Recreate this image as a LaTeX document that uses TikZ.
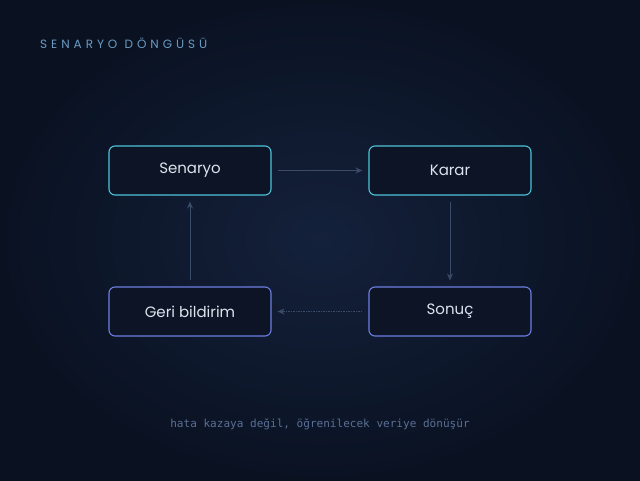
\documentclass[tikz,border=0pt]{standalone}
\usepackage{fontspec}
\setmainfont{Poppins}
\setmonofont{DejaVu Sans Mono}
\newfontfamily\titlefont[LetterSpace=33]{Poppins}
\usetikzlibrary{arrows.meta}
\definecolor{bgouter}{HTML}{0A1222}
\definecolor{bginner}{HTML}{14213B}
\definecolor{boxfill}{HTML}{0C1425}
\definecolor{lcyan}{HTML}{4EC3DA}
\definecolor{lviolet}{HTML}{6D7FE2}
\definecolor{ltext}{HTML}{DCE4EF}
\definecolor{ltitle}{HTML}{6B9BC3}
\definecolor{lnote}{HTML}{5A6E94}
\definecolor{larrow}{HTML}{3A4B68}

\tikzset{
    stepbox/.style={draw, rounded corners=6pt, line width=1.1pt, fill=boxfill,
        minimum width=162pt, minimum height=49pt, text=ltext,
        font=\fontsize{15}{18}\selectfont},
    flow/.style={draw=larrow, line width=1pt, -{Stealth[length=7pt,width=6pt]},
        shorten >=6pt, shorten <=6pt},
}

\begin{document}
\begin{tikzpicture}[x=1pt,y=1pt]
    % background
    \shade[inner color=bginner, outer color=bgouter] (0,0) rectangle (640,480);
    \useasboundingbox (0,0) rectangle (640,480);

    \node[anchor=west, text=ltitle, font=\titlefont\fontsize{12}{14}\selectfont, inner sep=0pt] (title) at (40,437) {SENARYO DÖNGÜSÜ};

    \node[stepbox, draw=lcyan] (senaryo) at (190,309.5) {Senaryo};
    \node[stepbox, draw=lcyan] (karar) at (450,309.5) {Karar};
    \node[stepbox, draw=lviolet] (sonuc) at (450,168.5) {Sonuç};
    \node[stepbox, draw=lviolet] (geri) at (190,168.5) {Geri bildirim};

    \draw[flow] (senaryo) -- (karar);
    \draw[flow] (karar) -- (sonuc);
    \draw[flow, dash pattern=on 1.5pt off 1pt] (sonuc) -- (geri);
    \draw[flow] (geri) -- (senaryo);

    \node[text=lnote, font=\ttfamily\fontsize{11.05}{14}\selectfont] (note) at (320,56) {hata kazaya değil, öğrenilecek veriye dönüşür};
\end{tikzpicture}
\end{document}
